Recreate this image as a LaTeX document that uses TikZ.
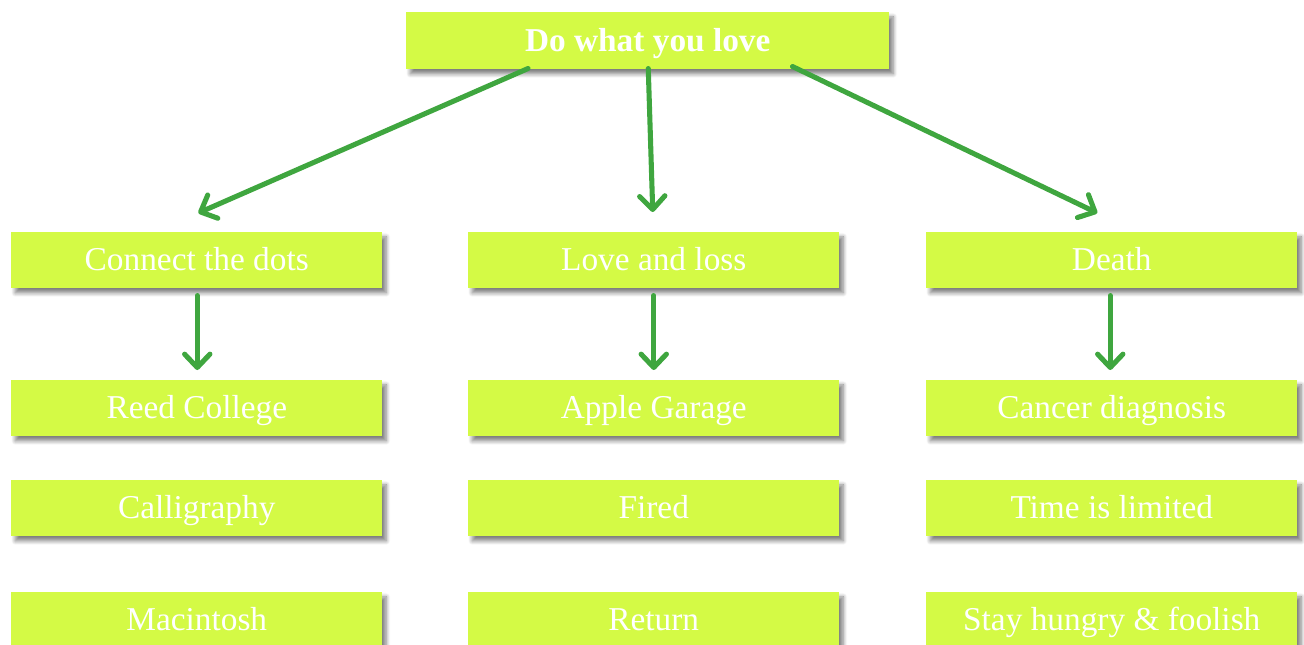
\documentclass[tikz,border=0pt]{standalone}
\usepackage{fontspec}
\setmainfont{Liberation Serif}
\usetikzlibrary{arrows.meta,shadows.blur,calc}
\definecolor{lime}{HTML}{D4FA45}
\definecolor{arrgreen}{HTML}{3FA63F}
\begin{document}
\begin{tikzpicture}[x=0.75pt,y=-0.75pt,
  box/.style={fill=lime, draw=none, inner sep=0pt, text=white,
    minimum width=278.25pt, minimum height=42pt, anchor=north west,
    text height=19pt, text depth=3pt,
    blur shadow={shadow xshift=3pt, shadow yshift=-3.5pt, shadow blur steps=8, shadow blur radius=3pt, shadow opacity=50},
    font=\fontsize{25}{27}\selectfont},
  conn/.style={draw=arrgreen, line width=3.8pt, line cap=round,
    -{Straight Barb[length=10pt,width=19pt,line cap=round,line join=round]}}]
\useasboundingbox (0,0) rectangle (1304,644);
\node[box, minimum width=362.25pt, minimum height=42.75pt, font=\fontsize{25}{27}\selectfont\bfseries] (top) at (406,12) {Do what you love};
\node[box] (c1) at (11,232) {Connect the dots};
\node[box] (c2) at (11,380) {Reed College};
\node[box] (c3) at (11,480) {Calligraphy};
\node[box] (c4) at (11,592) {Macintosh};
\node[box] (m1) at (468,232) {Love and loss};
\node[box] (m2) at (468,380) {Apple Garage};
\node[box] (m3) at (468,480) {Fired};
\node[box] (m4) at (468,592) {Return};
\node[box] (r1) at (926,232) {Death};
\node[box] (r2) at (926,380) {Cancer diagnosis};
\node[box] (r3) at (926,480) {Time is limited};
\node[box] (r4) at (926,592) {Stay hungry \& foolish};
% connector end points, relative to the named boxes
\coordinate (topL) at ($(top.south west)+(122,-1)$);
\coordinate (topM) at ($(top.south)+(0.5,-1)$);
\coordinate (topR) at ($(top.south east)+(-97,-3)$);
\coordinate (tL) at ($(c1.north)+(1.5,-19)$);
\coordinate (tM) at ($(m1.north)+(-1,-20)$);
\coordinate (tR) at ($(r1.north)+(-14.5,-19)$);
\coordinate (sL) at ($(c1.south)+(0.5,7)$);
\coordinate (eL) at ($(c2.north)+(0.5,-10)$);
\coordinate (sM) at ($(m1.south)+(0,7)$);
\coordinate (eM) at ($(m2.north)+(0,-10)$);
\coordinate (sR) at ($(r1.south)+(-1.5,7)$);
\coordinate (eR) at ($(r2.north)+(-1.5,-10)$);
\draw[conn] (topL) -- (tL);
\draw[conn] (topM) -- (tM);
\draw[conn] (topR) -- (tR);
\draw[conn] (sL) -- (eL);
\draw[conn] (sM) -- (eM);
\draw[conn] (sR) -- (eR);
\end{tikzpicture}
\end{document}
